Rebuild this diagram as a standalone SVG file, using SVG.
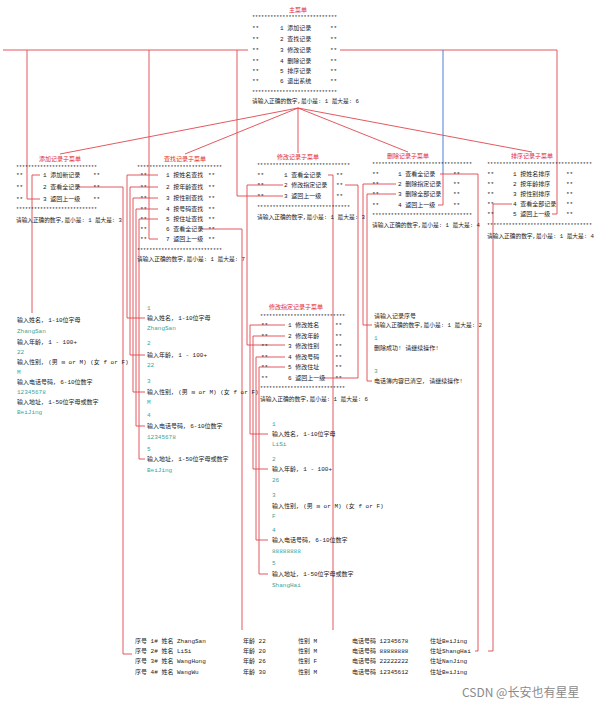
<svg xmlns="http://www.w3.org/2000/svg" width="608" height="712" viewBox="0 0 608 712">
<style>
.t{font-family:"Liberation Mono","Noto Sans CJK SC",monospace;font-size:6px;fill:#222}
.r{fill:#e02a2a;font-family:"Noto Sans CJK SC",sans-serif;font-size:6px;text-anchor:middle}
.g{fill:#3aa597}
.ln{stroke:#e0464f;stroke-width:0.9;fill:none}
.bl{stroke:#3a6fd0;stroke-width:0.9;fill:none}
.wm{font-family:"Noto Sans CJK SC",sans-serif;font-size:12px;fill:#8a8a8a}
</style>
<rect width="608" height="712" fill="#ffffff"/>
<g id="connectors">
<path class="ln" d="M3,50H248M340,50H557"/>
<path class="ln" d="M40,199H27V50M158,239H149V50M283,196H237V50M552,214H557V50"/>
<path class="ln" d="M438,205H443V174"/>
<path class="bl" d="M443,174V50"/>
<path class="ln" d="M298,108L60,154M298,108L185,154M298,108V153M298,108L408,152M298,108L532,152"/>
<path class="ln" d="M40,175H32V313M77,187H123V654H132"/>
<path class="ln" d="M158,175H127V318H145M158,187H130V355H145M158,198H133V392H145M158,209H136V426H145M158,219H139V459H145"/>
<path class="ln" d="M200,229H242V630M328,175H333V630"/>
<path class="ln" d="M283,185H247V345H285M323,378H358V185H345"/>
<path class="ln" d="M285,325H250V434H268M285,336H253V469H268M285,357H256V540H268M285,367H259V574H268"/>
<path class="ln" d="M440,174H478V651H475M396,184H363V325H372M396,194H367V381H372M512,204H493V651H488"/>
</g>
<g id="main-menu">
<text class="r" x="298" y="12">主菜单</text>
<text class="t" x="252" y="19" textLength="85" lengthAdjust="spacingAndGlyphs">****************************</text>
<text class="t" x="252" y="30">**</text><text class="t" x="280" y="30">1 添加记录</text><text class="t" x="330" y="30">**</text>
<text class="t" x="252" y="41">**</text><text class="t" x="280" y="41">2 查找记录</text><text class="t" x="330" y="41">**</text>
<text class="t" x="252" y="52">**</text><text class="t" x="280" y="52">3 修改记录</text><text class="t" x="330" y="52">**</text>
<text class="t" x="252" y="63">**</text><text class="t" x="280" y="63">4 删除记录</text><text class="t" x="330" y="63">**</text>
<text class="t" x="252" y="73">**</text><text class="t" x="280" y="73">5 排序记录</text><text class="t" x="330" y="73">**</text>
<text class="t" x="252" y="83">**</text><text class="t" x="280" y="83">6 退出系统</text><text class="t" x="330" y="83">**</text>
<text class="t" x="252" y="94" textLength="85" lengthAdjust="spacingAndGlyphs">****************************</text>
<text class="t" x="252" y="103" textLength="107" lengthAdjust="spacingAndGlyphs">请输入正确的数字,最小是: 1   最大是: 6</text>
</g>
<g id="add-menu">
<text class="r" x="60" y="161">添加记录子菜单</text>
<text class="t" x="16" y="169" textLength="81" lengthAdjust="spacingAndGlyphs">***************************</text>
<text class="t" x="16" y="177">**</text><text class="t" x="43" y="177">1 添加新记录</text><text class="t" x="93" y="177">**</text>
<text class="t" x="16" y="189">**</text><text class="t" x="43" y="189">2 查看全记录</text><text class="t" x="93" y="189">**</text>
<text class="t" x="16" y="201">**</text><text class="t" x="43" y="201">3 返回上一级</text><text class="t" x="93" y="201">**</text>
<text class="t" x="16" y="211" textLength="81" lengthAdjust="spacingAndGlyphs">***************************</text>
<text class="t" x="16" y="222" textLength="106" lengthAdjust="spacingAndGlyphs">请输入正确的数字,最小是: 1   最大是: 3</text>
</g>
<g id="search-menu">
<text class="r" x="185" y="161">查找记录子菜单</text>
<text class="t" x="137" y="169" textLength="85" lengthAdjust="spacingAndGlyphs">****************************</text>
<text class="t" x="140" y="177">**</text><text class="t" x="166" y="177">1 按姓名查找</text><text class="t" x="208" y="177">**</text>
<text class="t" x="140" y="189">**</text><text class="t" x="166" y="189">2 按年龄查找</text><text class="t" x="208" y="189">**</text>
<text class="t" x="140" y="200">**</text><text class="t" x="166" y="200">3 按性别查找</text><text class="t" x="208" y="200">**</text>
<text class="t" x="140" y="211">**</text><text class="t" x="166" y="211">4 按号码查找</text><text class="t" x="208" y="211">**</text>
<text class="t" x="140" y="221">**</text><text class="t" x="166" y="221">5 按住址查找</text><text class="t" x="208" y="221">**</text>
<text class="t" x="140" y="231">**</text><text class="t" x="166" y="231">6 查看全记录</text><text class="t" x="208" y="231">**</text>
<text class="t" x="140" y="241">**</text><text class="t" x="166" y="241">7 返回上一级</text><text class="t" x="208" y="241">**</text>
<text class="t" x="137" y="252" textLength="85" lengthAdjust="spacingAndGlyphs">****************************</text>
<text class="t" x="137" y="261" textLength="108" lengthAdjust="spacingAndGlyphs">请输入正确的数字,最小是: 1   最大是: 7</text>
</g>
<g id="modify-menu">
<text class="r" x="298" y="159">修改记录子菜单</text>
<text class="t" x="257" y="167" textLength="93" lengthAdjust="spacingAndGlyphs">******************************</text>
<text class="t" x="257" y="177">**</text><text class="t" x="284" y="177">1 查看全记录</text><text class="t" x="336" y="177">**</text>
<text class="t" x="257" y="187">**</text><text class="t" x="284" y="187">2 修改指定记录</text><text class="t" x="336" y="187">**</text>
<text class="t" x="257" y="198">**</text><text class="t" x="284" y="198">3 返回上一级</text><text class="t" x="336" y="198">**</text>
<text class="t" x="257" y="209" textLength="93" lengthAdjust="spacingAndGlyphs">******************************</text>
<text class="t" x="257" y="219" textLength="108" lengthAdjust="spacingAndGlyphs">请输入正确的数字,最小是: 1   最大是: 3</text>
</g>
<g id="delete-menu">
<text class="r" x="408" y="158">删除记录子菜单</text>
<text class="t" x="372" y="166" textLength="100" lengthAdjust="spacingAndGlyphs">********************************</text>
<text class="t" x="372" y="176">**</text><text class="t" x="398" y="176">1 查看全记录</text><text class="t" x="453" y="176">**</text>
<text class="t" x="372" y="186">**</text><text class="t" x="398" y="186">2 删除指定记录</text><text class="t" x="453" y="186">**</text>
<text class="t" x="372" y="196">**</text><text class="t" x="398" y="196">3 删除全部记录</text><text class="t" x="453" y="196">**</text>
<text class="t" x="372" y="207">**</text><text class="t" x="398" y="207">4 返回上一级</text><text class="t" x="453" y="207">**</text>
<text class="t" x="372" y="217" textLength="100" lengthAdjust="spacingAndGlyphs">********************************</text>
<text class="t" x="372" y="227" textLength="108" lengthAdjust="spacingAndGlyphs">请输入正确的数字,最小是: 1   最大是: 4</text>
</g>
<g id="sort-menu">
<text class="r" x="532" y="158">排序记录子菜单</text>
<text class="t" x="487" y="166" textLength="105" lengthAdjust="spacingAndGlyphs">**********************************</text>
<text class="t" x="487" y="176">**</text><text class="t" x="513" y="176">1 按姓名排序</text><text class="t" x="566" y="176">**</text>
<text class="t" x="487" y="186">**</text><text class="t" x="513" y="186">2 按年龄排序</text><text class="t" x="566" y="186">**</text>
<text class="t" x="487" y="196">**</text><text class="t" x="513" y="196">3 按性别排序</text><text class="t" x="566" y="196">**</text>
<text class="t" x="487" y="206">**</text><text class="t" x="513" y="206">4 查看全部记录</text><text class="t" x="566" y="206">**</text>
<text class="t" x="487" y="216">**</text><text class="t" x="513" y="216">5 返回上一级</text><text class="t" x="566" y="216">**</text>
<text class="t" x="487" y="227" textLength="105" lengthAdjust="spacingAndGlyphs">**********************************</text>
<text class="t" x="487" y="238" textLength="107" lengthAdjust="spacingAndGlyphs">请输入正确的数字,最小是: 1   最大是: 4</text>
</g>
<g id="specific-modify-menu">
<text class="r" x="296" y="309">修改指定记录子菜单</text>
<text class="t" x="260" y="318" textLength="85" lengthAdjust="spacingAndGlyphs">****************************</text>
<text class="t" x="261" y="327">**</text><text class="t" x="288" y="327">1 修改姓名</text><text class="t" x="335" y="327">**</text>
<text class="t" x="261" y="338">**</text><text class="t" x="288" y="338">2 修改年龄</text><text class="t" x="335" y="338">**</text>
<text class="t" x="261" y="348">**</text><text class="t" x="288" y="348">3 修改性别</text><text class="t" x="335" y="348">**</text>
<text class="t" x="261" y="359">**</text><text class="t" x="288" y="359">4 修改号码</text><text class="t" x="335" y="359">**</text>
<text class="t" x="261" y="369">**</text><text class="t" x="288" y="369">5 修改住址</text><text class="t" x="335" y="369">**</text>
<text class="t" x="261" y="380">**</text><text class="t" x="288" y="380">6 返回上一级</text><text class="t" x="335" y="380">**</text>
<text class="t" x="260" y="390" textLength="85" lengthAdjust="spacingAndGlyphs">****************************</text>
<text class="t" x="260" y="401" textLength="108" lengthAdjust="spacingAndGlyphs">请输入正确的数字,最小是: 1   最大是: 6</text>
</g>
<g id="add-input">
<text class="t" x="17" y="322">输入姓名, 1-10位字母</text>
<text class="t g" x="17" y="333">ZhangSan</text>
<text class="t" x="17" y="344">输入年龄, 1 - 100+</text>
<text class="t g" x="17" y="354">22</text>
<text class="t" x="17" y="364">输入性别, (男 m or M) (女 f or F)</text>
<text class="t g" x="17" y="374">M</text>
<text class="t" x="17" y="384">输入电话号码, 6-10位数字</text>
<text class="t g" x="17" y="394">12345678</text>
<text class="t" x="17" y="404">输入地址, 1-50位字母或数字</text>
<text class="t g" x="17" y="414">BeiJing</text>
</g>
<g id="search-input">
<text class="t g" x="147" y="310">1</text>
<text class="t" x="147" y="320">输入姓名, 1-10位字母</text>
<text class="t g" x="147" y="330">ZhangSan</text>
<text class="t g" x="147" y="345">2</text>
<text class="t" x="147" y="357">输入年龄, 1 - 100+</text>
<text class="t g" x="147" y="367">22</text>
<text class="t g" x="147" y="383">3</text>
<text class="t" x="147" y="394">输入性别, (男 m or M) (女 f or F)</text>
<text class="t g" x="147" y="404">M</text>
<text class="t g" x="147" y="417">4</text>
<text class="t" x="147" y="428">输入电话号码, 6-10位数字</text>
<text class="t g" x="147" y="439">12345678</text>
<text class="t g" x="147" y="451">5</text>
<text class="t" x="147" y="461">输入地址, 1-50位字母或数字</text>
<text class="t g" x="147" y="472">BeiJing</text>
</g>
<g id="modify-input">
<text class="t g" x="272" y="426">1</text>
<text class="t" x="272" y="436">输入姓名, 1-10位字母</text>
<text class="t g" x="272" y="446">LiSi</text>
<text class="t g" x="272" y="461">2</text>
<text class="t" x="272" y="471">输入年龄, 1 - 100+</text>
<text class="t g" x="272" y="482">26</text>
<text class="t g" x="272" y="497">3</text>
<text class="t" x="272" y="508">输入性别, (男 m or M) (女 f or F)</text>
<text class="t g" x="272" y="518">F</text>
<text class="t g" x="272" y="532">4</text>
<text class="t" x="272" y="542">输入电话号码, 6-10位数字</text>
<text class="t g" x="272" y="553">88888888</text>
<text class="t g" x="272" y="565">5</text>
<text class="t" x="272" y="576">输入地址, 1-50位字母或数字</text>
<text class="t g" x="272" y="587">ShangHai</text>
</g>
<g id="delete-output">
<text class="t" x="374" y="318">请输入记录序号</text>
<text class="t" x="374" y="327" textLength="108" lengthAdjust="spacingAndGlyphs">请输入正确的数字,最小是: 1   最大是: 2</text>
<text class="t g" x="374" y="340">1</text>
<text class="t" x="374" y="350">删除成功! 请继续操作!</text>
<text class="t g" x="374" y="373">3</text>
<text class="t" x="374" y="383">电话簿内容已清空, 请继续操作!</text>
</g>
<g id="record-table">
<text class="t" x="135" y="643">序号 1#  姓名 ZhangSan</text><text class="t" x="243" y="643">年龄 22</text><text class="t" x="298" y="643">性别 M</text><text class="t" x="352" y="643">电话号码 12345678</text><text class="t" x="430" y="643">住址BeiJing</text>
<text class="t" x="135" y="653">序号 2#  姓名 LiSi</text><text class="t" x="243" y="653">年龄 20</text><text class="t" x="298" y="653">性别 M</text><text class="t" x="352" y="653">电话号码 88888888</text><text class="t" x="430" y="653">住址ShangHai</text>
<text class="t" x="135" y="663">序号 3#  姓名 WangHong</text><text class="t" x="243" y="663">年龄 26</text><text class="t" x="298" y="663">性别 F</text><text class="t" x="352" y="663">电话号码 22222222</text><text class="t" x="430" y="663">住址NanJing</text>
<text class="t" x="135" y="674">序号 4#  姓名 WangWu</text><text class="t" x="243" y="674">年龄 30</text><text class="t" x="298" y="674">性别 M</text><text class="t" x="352" y="674">电话号码 12345612</text><text class="t" x="430" y="674">住址BeiJing</text>
</g>
<text class="wm" x="462" y="697">CSDN @长安也有星星</text>
</svg>
